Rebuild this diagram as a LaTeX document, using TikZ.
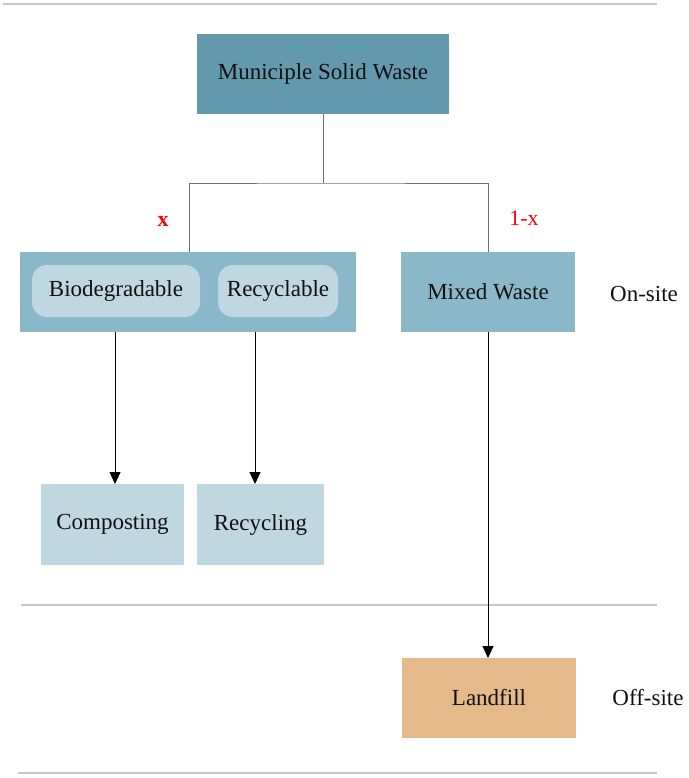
\documentclass[tikz,border=0pt]{standalone}
\usepackage{fontspec}
\setmainfont{Liberation Serif}
\usetikzlibrary{arrows.meta}
\definecolor{mswc}{HTML}{6399AC}
\definecolor{grpc}{HTML}{8AB8C8}
\definecolor{lightc}{HTML}{BED7E0}
\definecolor{landc}{HTML}{E6B98A}
\definecolor{sepc}{HTML}{C8C8C8}
\definecolor{treec}{HTML}{707070}
\definecolor{txtc}{HTML}{111111}
\tikzset{
  box/.style={anchor=north west, inner sep=0pt, outer sep=0pt, text=txtc,
    font=\fontsize{23}{27}\selectfont},
  pill/.style={box, rounded corners=15pt},
  lbl/.style={inner sep=0pt, text=txtc, font=\fontsize{23}{27}\selectfont},
  red lbl/.style={inner sep=0pt, text=red, font=\fontsize{22}{26}\selectfont},
  sep/.style={draw=sepc, line width=1.5pt},
  tree/.style={draw=treec, line width=1pt},
  arr/.style={draw=black, line width=1pt, -{Triangle[length=12pt,width=11pt]}}
}
\begin{document}
\begin{tikzpicture}[x=1pt,y=-1pt]
\useasboundingbox (0,0) rectangle (688,778);
% separators
\coordinate (t1) at (3,4); \coordinate (t2) at (657,4);
\coordinate (m1) at (21,605); \coordinate (m2) at (657,605);
\coordinate (b1) at (18,773); \coordinate (b2) at (657,773);
\draw[sep] (t1) -- (t2);
\draw[sep] (m1) -- (m2);
\draw[sep] (b1) -- (b2);
% nodes
\node[box, fill=mswc, minimum width=252pt, minimum height=80pt] (msw) at (197,34) {Municiple Solid Waste};
\node[box, fill=grpc, minimum width=336pt, minimum height=80pt] (grp) at (20,252) {};
\node[pill, fill=lightc, minimum width=168pt, minimum height=52pt] (bio) at (32,265) {Biodegradable};
\node[pill, fill=lightc, minimum width=120pt, minimum height=52pt] (rec) at (218,265) {Recyclable};
\node[box, fill=grpc, minimum width=174pt, minimum height=80pt] (mix) at (401,252) {Mixed Waste};
\node[box, fill=lightc, minimum width=143pt, minimum height=81pt] (comp) at (41,484) {Composting};
\node[box, fill=lightc, minimum width=127pt, minimum height=81pt] (recy) at (197,484) {Recycling};
\node[box, fill=landc, minimum width=174pt, minimum height=80pt] (land) at (402,658) {Landfill};
\node[lbl] (onsite) at (644,294) {On-site};
\node[lbl] (offsite) at (648,698) {Off-site};
\node[red lbl, font=\fontsize{22}{26}\selectfont\bfseries] (xl) at (163,221) {x};
\node[red lbl] (ox) at (524,218) {1-x};
% connectors
\coordinate (j) at (323,183);
\draw[tree] (msw.south) -- (j);
\draw[tree] ([xshift=1pt]grp.north) |- (j) -| (mix.north);
\draw[arr] ([xshift=2.5pt]comp.north |- grp.south) -- ([xshift=2.5pt]comp.north);
\draw[arr] ([xshift=-5.5pt]recy.north |- grp.south) -- ([xshift=-5.5pt]recy.north);
\draw[arr] (mix.south) -- (land.north -| mix.south);
\end{tikzpicture}
\end{document}
